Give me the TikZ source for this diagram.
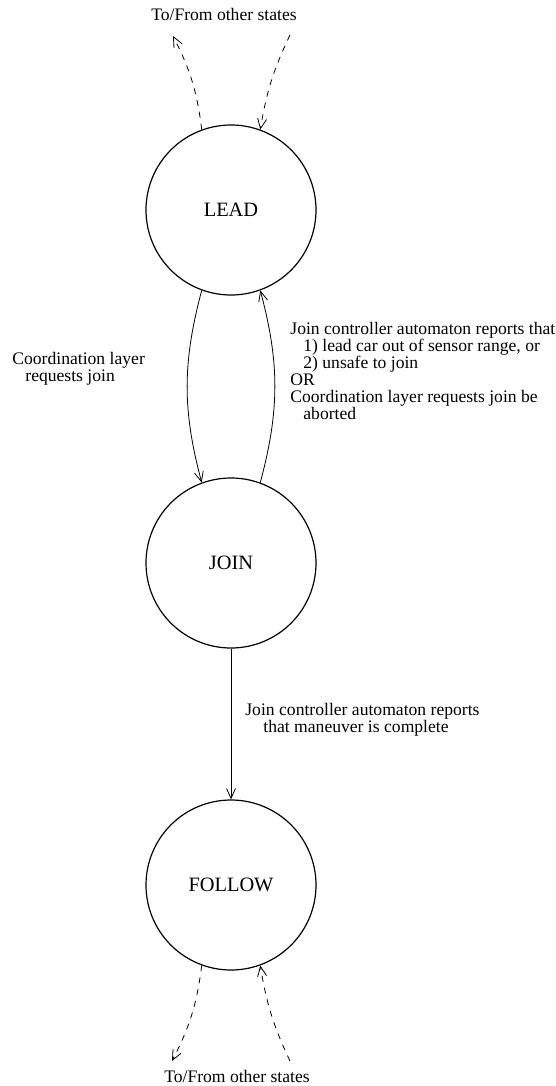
\documentclass[tikz,border=0pt]{standalone}
\usepackage{fontspec}
\setmainfont{Liberation Serif}
\usetikzlibrary{arrows.meta}
\tikzstyle{state}=[draw=black,line width=0.6pt,circle,minimum size=85pt,inner sep=0pt,font=\fontsize{10.2}{12}\selectfont]
\tikzstyle{txt}=[inner sep=0pt,font=\fontsize{8.8}{8.5}\selectfont]
\tikzstyle{lbl}=[txt,anchor=north west,align=left]
\tikzstyle{edge}=[draw=black,line width=0.4pt,-{Straight Barb[length=5pt,width=4.5pt]}]
\tikzstyle{other}=[edge,dashed]

\begin{document}
\begin{tikzpicture}[x=0.5pt,y=-0.5pt]
\useasboundingbox (0,0) rectangle (556,1086);
\node[state] (lead) at (231,210) {LEAD};
\node[state] (join) at (231,563) {JOIN};
\node[state] (follow) at (231,885) {FOLLOW};
\node[txt] (top) at (224,14) {To/From other states};
\node[txt] (bottom) at (237,1076) {To/From other states};
\coordinate (topleft) at (173,36);
\coordinate (topright) at (290,35);
\coordinate (botleft) at (172,1061);
\coordinate (botright) at (290,1061);
\draw[other] (lead.110) to[bend right=10] (topleft);
\draw[other] (topright) to[bend right=8] (lead.70);
\draw[other] (follow.-110) to[bend left=10] (botleft);
\draw[other] (botright) to[bend left=8] (follow.-70);
\draw[edge] (lead.-110) to[bend right=15] (join.110);
\draw[edge] (join.70) to[bend right=15] (lead.-70);
\draw[edge] (join.south) -- (follow.north);
\node[lbl] (request) at (12,352) {Coordination layer\\\hspace*{6.5pt}requests join};
\node[lbl] (abort) at (290,322) {Join controller automaton reports that\\
\hspace*{6.5pt}1) lead car out of sensor range, or\\
\hspace*{6.5pt}2) unsafe to join\\
OR\\
Coordination layer requests join be\\
\hspace*{6.5pt}aborted};
\node[lbl] (complete) at (245,703) {Join controller automaton reports\\
\hspace*{9pt}that maneuver is complete};
\end{tikzpicture}
\end{document}
